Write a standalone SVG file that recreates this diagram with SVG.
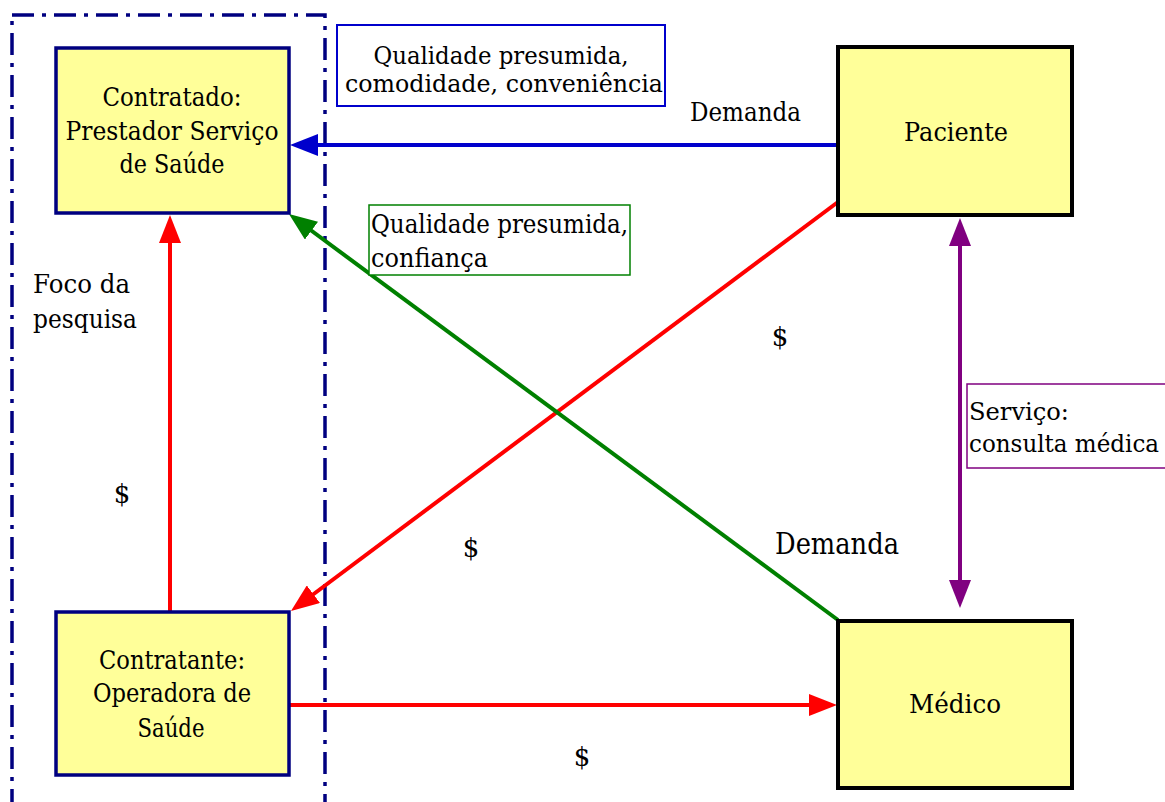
<svg xmlns="http://www.w3.org/2000/svg" width="1165" height="802" viewBox="0 0 1165 802">
<style>
text{font-family:'DejaVu Serif',serif;font-size:26px;fill:#000}
.c{text-anchor:middle}
.node{fill:#FFFF99}
.navy{stroke:#000080;stroke-width:3.5}
.blk{stroke:#000;stroke-width:4}
.ln{fill:none;stroke-width:4}
.sm{font-size:23.5px}
</style>
<defs>
<marker id="aRed" viewBox="0 0 28 22" refX="18" refY="11" markerWidth="28" markerHeight="22" markerUnits="userSpaceOnUse" orient="auto"><path d="M0,0 L28,11 L0,22 z" fill="#FF0000"/></marker>
<marker id="aBlue" viewBox="0 0 28 22" refX="18" refY="11" markerWidth="28" markerHeight="22" markerUnits="userSpaceOnUse" orient="auto"><path d="M0,0 L28,11 L0,22 z" fill="#0000CC"/></marker>
<marker id="aGreen" viewBox="0 0 28 22" refX="18" refY="11" markerWidth="28" markerHeight="22" markerUnits="userSpaceOnUse" orient="auto"><path d="M0,0 L28,11 L0,22 z" fill="#008000"/></marker>
<marker id="aPurple" viewBox="0 0 28 22" refX="18" refY="11" markerWidth="28" markerHeight="22" markerUnits="userSpaceOnUse" orient="auto-start-reverse"><path d="M0,0 L28,11 L0,22 z" fill="#800080"/></marker>
</defs>
<rect width="1165" height="802" fill="#fff"/>
<g id="foco">
<rect x="12" y="15" width="313" height="820" fill="none" stroke="#000080" stroke-width="3.5" stroke-dasharray="22 8 4 8"/>
<text x="33" y="293" textLength="97" lengthAdjust="spacingAndGlyphs">Foco da</text>
<text x="33" y="328" textLength="104" lengthAdjust="spacingAndGlyphs">pesquisa</text>
</g>
<g id="connectors">
<line class="ln" x1="838" y1="145" x2="300" y2="145" stroke="#0000CC" marker-end="url(#aBlue)"/>
<line class="ln" x1="170" y1="612" x2="170" y2="225" stroke="#FF0000" marker-end="url(#aRed)"/>
<line class="ln" x1="289" y1="705" x2="827" y2="705" stroke="#FF0000" marker-end="url(#aRed)"/>
<line class="ln" x1="838" y1="202" x2="299" y2="605" stroke="#FF0000" marker-end="url(#aRed)"/>
<line class="ln" x1="838" y1="620" x2="297" y2="220" stroke="#008000" stroke-width="3.5" marker-end="url(#aGreen)"/>
<line class="ln" x1="960" y1="228" x2="960" y2="598" stroke="#800080" marker-start="url(#aPurple)" marker-end="url(#aPurple)"/>
</g>
<g id="contratado">
<rect class="node navy" x="56" y="48" width="233" height="165"/>
<text class="c" x="172" y="106" textLength="139" lengthAdjust="spacingAndGlyphs">Contratado:</text>
<text class="c" x="172" y="140" textLength="213" lengthAdjust="spacingAndGlyphs">Prestador Serviço</text>
<text class="c" x="172" y="173" textLength="105" lengthAdjust="spacingAndGlyphs">de Saúde</text>
</g>
<g id="contratante">
<rect class="node navy" x="56" y="612" width="233" height="163"/>
<text class="c" x="172" y="669" textLength="146" lengthAdjust="spacingAndGlyphs">Contratante:</text>
<text class="c" x="172" y="702" textLength="158" lengthAdjust="spacingAndGlyphs">Operadora de</text>
<text class="c" x="171" y="737" textLength="67" lengthAdjust="spacingAndGlyphs">Saúde</text>
</g>
<g id="paciente">
<rect class="node blk" x="838" y="47" width="234" height="168"/>
<text class="c" x="956" y="141" textLength="104" lengthAdjust="spacingAndGlyphs">Paciente</text>
</g>
<g id="medico">
<rect class="node blk" x="838" y="621" width="234" height="167"/>
<text class="c" x="955" y="713" textLength="92" lengthAdjust="spacingAndGlyphs">Médico</text>
</g>
<g id="label-blue">
<rect x="337" y="25" width="328" height="81" fill="#fff" stroke="#0000CC" stroke-width="2"/>
<text class="c" x="501" y="64" style="font-size:25px" textLength="255" lengthAdjust="spacingAndGlyphs">Qualidade presumida,</text>
<text class="c" x="504" y="92" style="font-size:25px" textLength="318" lengthAdjust="spacingAndGlyphs">comodidade, conveniência</text>
</g>
<g id="label-green">
<rect x="369" y="205" width="261" height="70" fill="#fff" stroke="#008000" stroke-width="1.5"/>
<text x="371" y="233" textLength="257" lengthAdjust="spacingAndGlyphs">Qualidade presumida,</text>
<text x="371" y="267" textLength="117" lengthAdjust="spacingAndGlyphs">confiança</text>
</g>
<g id="label-purple">
<rect x="967" y="384" width="200" height="84" fill="#fff" stroke="#800080" stroke-width="1.5"/>
<text class="sm" x="969" y="420" textLength="100" lengthAdjust="spacingAndGlyphs">Serviço:</text>
<text class="sm" x="969" y="452" textLength="190" lengthAdjust="spacingAndGlyphs">consulta médica</text>
</g>
<g id="labels">
<text x="690" y="121" textLength="111" lengthAdjust="spacingAndGlyphs">Demanda</text>
<text x="775" y="554" style="font-size:29px" textLength="124" lengthAdjust="spacingAndGlyphs">Demanda</text>
<text class="c" x="780" y="346">$</text>
<text class="c" x="471" y="557">$</text>
<text class="c" x="122" y="503">$</text>
<text class="c" x="582" y="766">$</text>
</g>
</svg>
